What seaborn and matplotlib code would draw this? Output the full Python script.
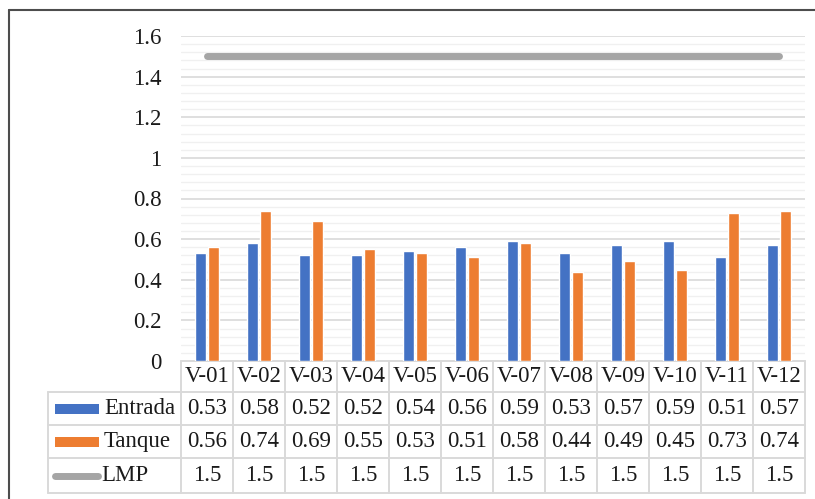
import matplotlib

matplotlib.use("Agg")

import matplotlib.pyplot as plt
import numpy as np
import pandas as pd
import seaborn as sns
from matplotlib.lines import Line2D
from matplotlib.patches import Rectangle
from matplotlib.ticker import MultipleLocator

categorias = ["V-01", "V-02", "V-03", "V-04", "V-05", "V-06",
              "V-07", "V-08", "V-09", "V-10", "V-11", "V-12"]
entrada = [0.53, 0.58, 0.52, 0.52, 0.54, 0.56, 0.59, 0.53, 0.57, 0.59, 0.51, 0.57]
tanque = [0.56, 0.74, 0.69, 0.55, 0.53, 0.51, 0.58, 0.44, 0.49, 0.45, 0.73, 0.74]
lmp = [1.5] * 12
series = ["Entrada", "Tanque", "LMP"]

AZUL, NARANJA, GRIS = "#4472C4", "#ED7D31", "#A5A5A5"
GRID = "#D9D9D9"

sns.set_theme(style="white")
plt.rcParams["font.family"] = ["Liberation Serif", "DejaVu Serif"]

W, H = 815, 499
fig = plt.figure(figsize=(W / 100, H / 100), dpi=100)

# plot area in pixels
X0, X1, Y0, Y1 = 181, 805, 36, 361
ax = fig.add_axes([X0 / W, 1 - Y1 / H, (X1 - X0) / W, (Y1 - Y0) / H])

df = pd.DataFrame({
    "cat": categorias * 2,
    "serie": ["Entrada"] * 12 + ["Tanque"] * 12,
    "valor": entrada + tanque,
})
sns.barplot(data=df, x="cat", y="valor", hue="serie", palette=[AZUL, NARANJA],
            width=0.5, gap=0.2, saturation=1, legend=False, ax=ax, zorder=3)
ax.plot(np.arange(len(categorias)), lmp, color=GRIS, lw=5, solid_capstyle="round", zorder=4)

ax.set_xlim(-0.5, len(categorias) - 0.5)
ax.set_ylim(0, 1.6)
ax.yaxis.set_minor_locator(MultipleLocator(0.04))
ax.set_yticks(np.arange(0, 1.61, 0.2))
ax.set_yticklabels(["0", "0.2", "0.4", "0.6", "0.8", "1", "1.2", "1.4", "1.6"])
ax.grid(axis="y", which="major", color=GRID, lw=1.2, zorder=0)
ax.grid(axis="y", which="minor", color="#F0F0F0", lw=1.0, zorder=0)
ax.set_axisbelow(True)
ax.set_xticks([])
ax.set_xlabel("")
ax.set_ylabel("")
ax.tick_params(axis="y", which="both", length=0, pad=14, labelsize=16.5, colors="#1a1a1a")
for s in ax.spines.values():
    s.set_visible(False)

# data table under the plot (pixel layout -> axes fraction)
def fx(px):
    return (px - X0) / (X1 - X0)


def fy(py):
    return (Y1 - py) / (Y1 - Y0)


tr = ax.transAxes
lw_t = 1.4
n = len(categorias)
filas = [361, 392, 425, 458, 493]
LEG_X = 48

def linea(xs, ys):
    ax.add_line(Line2D(xs, ys, transform=tr, color=GRID, lw=lw_t, clip_on=False, zorder=1))

# header row
linea([0, 1], [fy(filas[0])] * 2)
for i in range(n + 1):
    linea([i / n] * 2, [fy(filas[0]), fy(filas[-1])])
linea([fx(LEG_X)] * 2, [fy(filas[1]), fy(filas[-1])])
for py in filas[1:]:
    linea([fx(LEG_X), 1], [fy(py)] * 2)

fs = 16.5
for i, c in enumerate(categorias):
    xc = (i + 0.5) / n
    ax.text(xc, fy((filas[0] + filas[1]) / 2), c, transform=tr, ha="center", va="center",
            fontsize=fs, color="#1a1a1a", clip_on=False)
    for r, vals in enumerate([entrada, tanque, lmp]):
        yc = fy((filas[r + 1] + filas[r + 2]) / 2)
        ax.text(xc, yc, f"{vals[i]:g}", transform=tr, ha="center", va="center",
                fontsize=fs, color="#1a1a1a", clip_on=False)

# legend keys in first column
for r, (nombre, col) in enumerate(zip(series, [AZUL, NARANJA, GRIS])):
    yc = fy((filas[r + 1] + filas[r + 2]) / 2)
    if nombre == "LMP":
        ax.add_line(Line2D([fx(55), fx(98)], [yc, yc], transform=tr, color=col, lw=5,
                           solid_capstyle="round", clip_on=False))
        tx = 101
    else:
        hh = 10 / (Y1 - Y0)
        ax.add_patch(Rectangle((fx(55), yc - hh / 2), fx(99) - fx(55), hh, transform=tr,
                               color=col, lw=0, clip_on=False))
        tx = 104
    ax.text(fx(tx), yc, nombre, transform=tr, ha="left", va="center", fontsize=fs,
            color="#1a1a1a", clip_on=False)

# outer chart border (only left and top visible)
fig.add_artist(Line2D([9 / W, 9 / W], [0, 1 - 10 / H], transform=fig.transFigure,
                      color="#4d4d4d", lw=1.5))
fig.add_artist(Line2D([9 / W, 1], [1 - 10 / H, 1 - 10 / H], transform=fig.transFigure,
                      color="#4d4d4d", lw=1.5))

fig.savefig("out.png", dpi=100)
